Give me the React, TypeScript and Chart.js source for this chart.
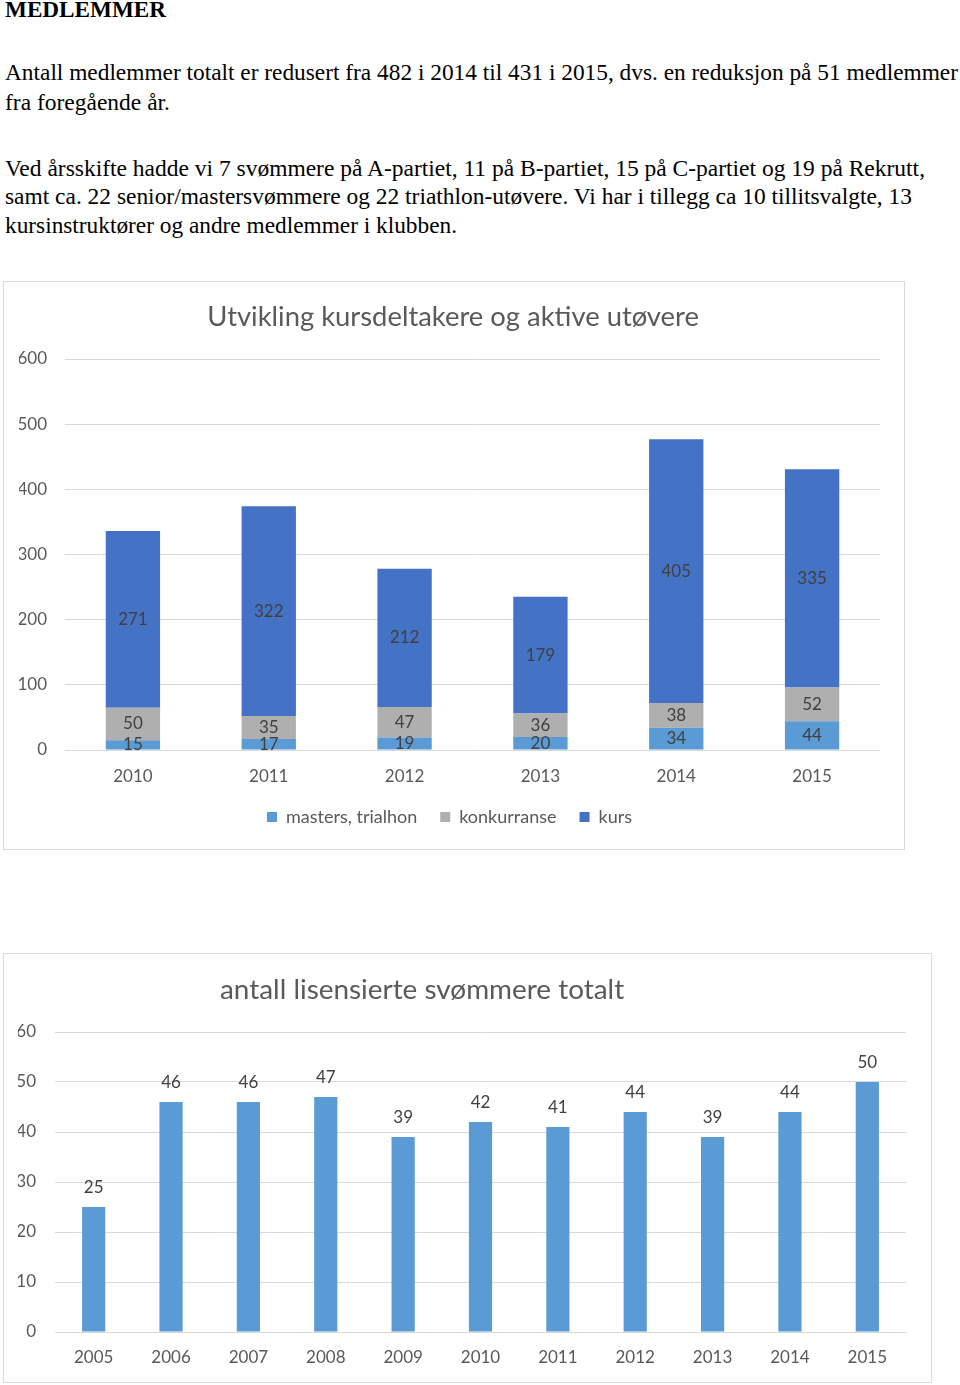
import React, { useEffect, useLayoutEffect, useRef } from 'react';
import { Chart, registerables } from 'chart.js';

Chart.register(...registerables);

// ---------- data ----------
const years1 = ['2010', '2011', '2012', '2013', '2014', '2015'];
const masters = [15, 17, 19, 20, 34, 44];
const konkurranse = [50, 35, 47, 36, 38, 52];
const kurs = [271, 322, 212, 179, 405, 335];
const seriesNames1 = ['masters, trialhon', 'konkurranse', 'kurs'];
const title1 = 'Utvikling kursdeltakere og aktive utøvere';

const years2 = ['2005', '2006', '2007', '2008', '2009', '2010', '2011', '2012', '2013', '2014', '2015'];
const lisensierte = [25, 46, 46, 47, 39, 42, 41, 44, 39, 44, 50];
const title2 = 'antall lisensierte svømmere totalt';

const heading = 'MEDLEMMER';
const paragraphLines = [
  'Antall medlemmer totalt er redusert fra 482 i 2014 til 431 i 2015, dvs. en reduksjon på 51 medlemmer',
  'fra foregående år.',
  'Ved årsskifte hadde vi 7 svømmere på A-partiet, 11 på B-partiet, 15 på C-partiet og 19 på Rekrutt,',
  'samt ca. 22 senior/mastersvømmere og 22 triathlon-utøvere. Vi har i tillegg ca 10 tillitsvalgte, 13',
  'kursinstruktører og andre medlemmer i klubben.',
];

// ---------- styling ----------
const FONT = 'Lato';
const TEXT_COLOR = '#595959';
const LABEL_COLOR = '#404040';
const GRID_COLOR = '#d9d9d9';
const C_MASTERS = '#5B9BD5';
const C_KONK = '#AFAFAF';
const C_KURS = '#4472C4';

// text layout (page text)
const textBaselines = [17.5, 80, 110, 176, 204.5, 233];
const textWidths = [161, 953, 165, 920, 907, 452];

const titlePlugin = {
  id: 'offsetTitle',
  afterDraw(chart: any, _args: any, opts: any) {
    const ctx = chart.ctx;
    ctx.save();
    ctx.font = `${opts.size}px ${FONT}`;
    ctx.fillStyle = TEXT_COLOR;
    ctx.textAlign = 'center';
    ctx.textBaseline = 'middle';
    ctx.fillText(opts.text, chart.width * opts.xFrac, opts.y);
    ctx.restore();
  },
};

const valueLabelPlugin = {
  id: 'valueLabels',
  afterDatasetsDraw(chart: any, _args: any, opts: any) {
    const ctx = chart.ctx;
    ctx.save();
    ctx.font = `${opts.size}px ${FONT}`;
    ctx.fillStyle = LABEL_COLOR;
    ctx.textAlign = 'center';
    ctx.textBaseline = 'middle';
    chart.data.datasets.forEach((ds: any, i: number) => {
      const meta = chart.getDatasetMeta(i);
      meta.data.forEach((el: any, j: number) => {
        const { x, y, base } = el.getProps(['x', 'y', 'base'], true);
        const ty = opts.mode === 'center' ? (y + base) / 2 : y - opts.offset;
        ctx.fillText(String(ds.data[j]), x, ty);
      });
    });
    ctx.restore();
  },
};

const TICK_FONT = { family: FONT, size: 17 };

function StackedChart() {
  const ref = useRef<HTMLCanvasElement>(null);
  useEffect(() => {
    const chart = new Chart(ref.current!, {
      type: 'bar',
      data: {
        labels: years1,
        datasets: [
          { label: seriesNames1[0], data: masters, backgroundColor: C_MASTERS },
          { label: seriesNames1[1], data: konkurranse, backgroundColor: C_KONK },
          { label: seriesNames1[2], data: kurs, backgroundColor: C_KURS },
        ],
      },
      plugins: [titlePlugin, valueLabelPlugin],
      options: {
        animation: false,
        responsive: false,
        layout: { padding: { left: 15, right: 24, top: 77, bottom: 13 } },
        datasets: { bar: { barPercentage: 0.4, categoryPercentage: 1 } },
        scales: {
          x: {
            stacked: true,
            grid: { display: false, drawTicks: false },
            border: { display: false },
            ticks: { color: TEXT_COLOR, font: TICK_FONT, padding: 16 },
            afterFit: (s: any) => { s.height = 35; },
          },
          y: {
            stacked: true,
            min: 0,
            max: 600,
            grid: { color: GRID_COLOR, drawTicks: false },
            border: { display: false },
            ticks: { stepSize: 100, color: TEXT_COLOR, font: TICK_FONT, padding: 18 },
            afterFit: (s: any) => { s.width = 46; },
          },
        },
        plugins: {
          tooltip: { enabled: false },
          title: { display: false },
          legend: {
            position: 'bottom',
            labels: {
              boxWidth: 10,
              boxHeight: 10,
              padding: 23,
              color: TEXT_COLOR,
              font: { family: FONT, size: 18 },
            },
          },
          offsetTitle: { text: title1, xFrac: 0.499, y: 35, size: 27.4 },
          valueLabels: { mode: 'center', size: 17 },
        } as any,
      },
    });
    return () => chart.destroy();
  }, []);
  return <canvas ref={ref} width={900} height={567} style={{ display: 'block', width: 900, height: 567 }} />;
}

function SimpleChart() {
  const ref = useRef<HTMLCanvasElement>(null);
  useEffect(() => {
    const chart = new Chart(ref.current!, {
      type: 'bar',
      data: {
        labels: years2,
        datasets: [{ label: 'lisensierte', data: lisensierte, backgroundColor: C_MASTERS }],
      },
      plugins: [titlePlugin, valueLabelPlugin],
      options: {
        animation: false,
        responsive: false,
        layout: { padding: { left: 14, right: 25, top: 78, bottom: 16 } },
        datasets: { bar: { barPercentage: 0.3, categoryPercentage: 1 } },
        scales: {
          x: {
            grid: { display: false, drawTicks: false },
            border: { display: false },
            ticks: { color: TEXT_COLOR, font: TICK_FONT, padding: 15 },
            afterFit: (s: any) => { s.height = 34; },
          },
          y: {
            min: 0,
            max: 60,
            grid: { color: GRID_COLOR, drawTicks: false },
            border: { display: false },
            ticks: { stepSize: 10, color: TEXT_COLOR, font: TICK_FONT, padding: 19 },
            afterFit: (s: any) => { s.width = 37; },
          },
        },
        plugins: {
          tooltip: { enabled: false },
          title: { display: false },
          legend: { display: false },
          offsetTitle: { text: title2, xFrac: 0.451, y: 36, size: 27.9 },
          valueLabels: { mode: 'above', offset: 19.5, size: 17 },
        } as any,
      },
    });
    return () => chart.destroy();
  }, []);
  return <canvas ref={ref} width={927} height={428} style={{ display: 'block', width: 927, height: 428 }} />;
}

function FitLine({ text, baseline, width, bold }: { text: string; baseline: number; width: number; bold?: boolean }) {
  const ref = useRef<HTMLSpanElement>(null);
  useLayoutEffect(() => {
    const el = ref.current!;
    el.style.transform = 'none';
    const w = el.getBoundingClientRect().width;
    if (w > 0) el.style.transform = `scaleX(${width / w})`;
  }, [text, width]);
  const size = 24;
  return (
    <span
      ref={ref}
      style={{
        position: 'absolute',
        left: 5,
        top: baseline - 0.891 * size + (1.107 * size - size) / 2,
        fontFamily: '"Liberation Serif", "Times New Roman", serif',
        fontSize: size,
        lineHeight: `${size}px`,
        fontWeight: bold ? 700 : 400,
        whiteSpace: 'nowrap',
        transformOrigin: 'left center',
        color: '#000',
      }}
    >
      {text}
    </span>
  );
}

export default function App() {
  const lines = [heading, ...paragraphLines];
  return (
    <div style={{ position: 'absolute', left: 0, top: 0, width: 960, height: 1385, background: '#fff', overflow: 'hidden' }}>
      {lines.map((t, i) => (
        <FitLine key={i} text={t} baseline={textBaselines[i]} width={textWidths[i]} bold={i === 0} />
      ))}
      <div style={{ position: 'absolute', left: 3, top: 281, width: 902, height: 569, border: `1px solid ${GRID_COLOR}`, boxSizing: 'border-box' }}>
        <StackedChart />
      </div>
      <div style={{ position: 'absolute', left: 3, top: 953, width: 929, height: 430, border: `1px solid ${GRID_COLOR}`, boxSizing: 'border-box' }}>
        <SimpleChart />
      </div>
    </div>
  );
}
